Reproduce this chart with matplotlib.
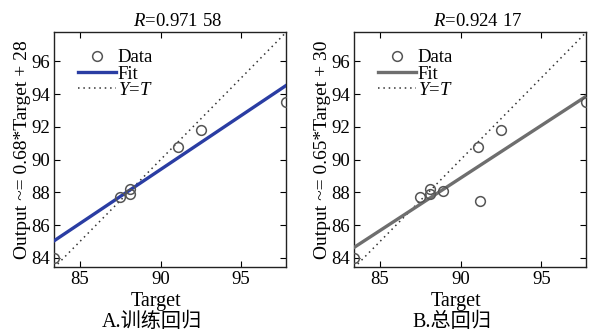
import numpy as np
import matplotlib
matplotlib.use('Agg')
import matplotlib.pyplot as plt

plt.rcParams['font.family'] = ['Liberation Serif', 'Noto Sans CJK SC']
plt.rcParams['mathtext.fontset'] = 'custom'
plt.rcParams['mathtext.rm'] = 'Liberation Serif'
plt.rcParams['mathtext.it'] = 'Liberation Serif:italic'

# training regression data
train_target = [83.4, 87.5, 88.1, 88.1, 91.1, 92.5, 97.8]
train_output = [84.0, 87.7, 88.2, 87.9, 90.8, 91.8, 93.5]
train_fit = (0.66, 30.0)  # slope, intercept
train_r = 'R=0.971 58'
train_ylabel = 'Output ~= 0.68*Target + 28'

# overall regression data
all_target = [83.4, 87.5, 88.1, 88.1, 88.9, 91.1, 91.2, 92.5, 97.8]
all_output = [84.0, 87.7, 88.2, 87.9, 88.1, 90.8, 87.5, 91.8, 93.5]
all_fit = (0.642, 31.1)
all_r = 'R=0.924 17'
all_ylabel = 'Output ~= 0.65*Target + 30'

x_range = [83.4, 97.8]
y_range = [83.45, 97.8]
x_ticks = [85, 90, 95]
y_ticks = [84, 86, 88, 90, 92, 94, 96]

fig = plt.figure(figsize=(5.93, 3.34), dpi=100)

panels = [
    (0.091, train_target, train_output, train_fit, train_r, train_ylabel, '#2a3da3', 'A.训练回归'),
    (0.597, all_target, all_output, all_fit, all_r, all_ylabel, '#6e6e6e', 'B.总回归'),
]

for left, tx, ty, fit, rtxt, ylab, fitcolor, caption in panels:
    ax = fig.add_axes([left, 0.2006, 0.392, 0.7036])
    xs = np.array(x_range)
    ax.plot(tx, ty, 'o', mfc='none', mec='#555555', ms=7, mew=1.1, label='Data', zorder=4)
    ax.plot(xs, fit[0] * xs + fit[1], color=fitcolor, lw=2.4, label='Fit', zorder=3)
    ax.plot(xs, xs, color='#333333', lw=1.1, dashes=(1, 2.5), label='$Y$=$T$', zorder=2)
    ax.set_xlim(x_range)
    ax.set_ylim(y_range)
    ax.set_xticks(x_ticks)
    ax.set_yticks(y_ticks)
    ax.tick_params(direction='in', top=True, right=True, labelsize=13.5, length=4, pad=3, width=0.8)
    for s in ax.spines.values():
        s.set_linewidth(1.0)
        s.set_color('#222222')
    ax.set_xlabel('Target', fontsize=14.5, labelpad=1)
    ax.xaxis.set_label_coords(0.44, -0.105)
    ax.set_ylabel(ylab, fontsize=14, labelpad=0)
    ax.set_title('$R$' + rtxt[1:], fontsize=13.5, pad=4, x=0.53)
    ax.legend(loc='upper left', frameon=False, fontsize=13.5, handlelength=2.0,
              handletextpad=0.1, labelspacing=-0.05, borderaxespad=0.4,
              bbox_to_anchor=(0.04, 0.99))
    ax.text(0.42, -0.235, caption, transform=ax.transAxes, ha='center', va='center', fontsize=14.5)

fig.savefig('out.png', dpi=100)
